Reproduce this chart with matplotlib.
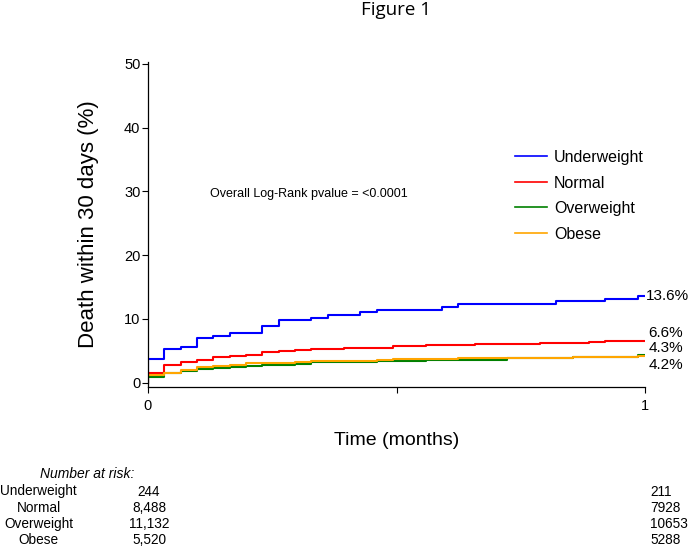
import matplotlib
matplotlib.use("Agg")
import matplotlib.pyplot as plt
from matplotlib.lines import Line2D

plt.rcParams['font.family'] = ['Liberation Sans', 'DejaVu Sans']

# groups and colours
groups = ['Underweight', 'Normal', 'Overweight', 'Obese']
colors = ['#0000FF', '#FF0000', '#008000', '#FFA500']

# cumulative mortality (%), step times in days
days_uw = [0, 0, 1, 2, 3, 4, 5, 7, 8, 10, 11, 13, 14, 18, 19, 25, 28, 30, 30.4]
pct_uw = [0, 3.7, 5.3, 5.6, 7.05, 7.4, 7.85, 8.95, 9.8, 10.2, 10.6, 11.1, 11.45,
          11.9, 12.4, 12.8, 13.2, 13.6, 13.6]

days_nm = [0, 0, 1, 2, 3, 4, 5, 6, 7, 8, 9, 10, 12, 15, 17, 20, 22, 24, 27, 28, 30.4]
pct_nm = [0, 1.6, 2.8, 3.3, 3.55, 4.0, 4.25, 4.4, 4.75, 4.9, 5.2, 5.35, 5.5, 5.75,
          5.9, 6.05, 6.15, 6.3, 6.45, 6.6, 6.6]

days_ow = [0, 0, 1, 2, 3, 4, 5, 6, 7, 9, 10, 12, 14, 17, 22, 26, 30, 30.4]
pct_ow = [0, 0.95, 1.45, 1.8, 2.1, 2.35, 2.5, 2.65, 2.85, 3.0, 3.2, 3.3, 3.45,
          3.6, 3.8, 4.0, 4.3, 4.3]

days_ob = [0, 0, 1, 2, 3, 4, 5, 6, 7, 9, 10, 12, 14, 15, 19, 26, 30, 30.4]
pct_ob = [0, 1.2, 1.55, 2.0, 2.4, 2.6, 2.8, 3.05, 3.15, 3.25, 3.35, 3.45, 3.6,
          3.65, 3.85, 4.05, 4.2, 4.2]

end_labels = ['13.6%', '6.6%', '4.3%', '4.2%']
end_label_y = [13.6, 7.75, 5.4, 2.8]

# number at risk at 0 and 1 month
risk_0 = ['244', '8,488', '11,132', '5,520']
risk_1 = ['211', '7928', '10653', '5288']

days_per_month = 30.44
series = [(days_uw, pct_uw), (days_nm, pct_nm), (days_ow, pct_ow), (days_ob, pct_ob)]

fig = plt.figure(figsize=(6.88, 5.47), dpi=100)
ax = fig.add_axes([148 / 688, 1 - 387 / 547, 497 / 688, 325 / 547])

for (d, p), c in zip(series, colors):
    months = [x / days_per_month for x in d]
    ax.step(months, p, where='post', color=c, lw=1.5)

ax.set_xlim(0, 1.0)
ax.set_ylim(-0.67, 50.3)
ax.set_xticks([0, 0.5, 1])
ax.set_xticklabels(['0', '', '1'])
ax.set_yticks([0, 10, 20, 30, 40, 50])
ax.tick_params(axis='both', labelsize=10.5, length=4, width=0.8)
ax.tick_params(axis='y', pad=1.5)
ax.tick_params(axis='x', pad=5)
for s in ['top', 'right']:
    ax.spines[s].set_visible(False)
for s in ['left', 'bottom']:
    ax.spines[s].set_linewidth(0.9)

ax.set_xlabel('Time (months)', fontsize=14, labelpad=13)
ax.set_ylabel('Death within 30 days (%)', fontsize=16, labelpad=18)

ax.text(0.1256, 29.6, 'Overall Log-Rank pvalue = <0.0001', fontsize=9, va='center')

for lab, y in zip(end_labels, end_label_y):
    ax.text(1.002 if lab == '13.6%' else 1.007, y, lab, fontsize=11, va='center', ha='left',
            clip_on=False)

handles = [Line2D([], [], color=c, lw=1.2) for c in colors]
ax.legend(handles, groups, loc='upper left', bbox_to_anchor=(515 / 688, 1 - 150 / 547),
          bbox_transform=fig.transFigure, frameon=False, fontsize=11.5,
          handlelength=2.0, handletextpad=0.45, labelspacing=0.66, borderpad=0,
          borderaxespad=0)

fig.text(396 / 688, 1 - 10 / 547, 'Figure 1', fontsize=13.5, ha='center', va='center',
         family=['Open Sans', 'DejaVu Sans'])

# number at risk table
fig.text(87 / 688, 1 - 474 / 547, 'Number at risk:', fontsize=10, style='italic',
         ha='center', va='center')
row_y = [491.5, 508, 524, 540]
for g, r0, r1, y in zip(groups, risk_0, risk_1, row_y):
    fy = 1 - y / 547
    fig.text(38.5 / 688, fy, g, fontsize=9.8, ha='center', va='center')
    fig.text(149 / 688, fy, r0, fontsize=9.8, ha='center', va='center')
    fig.text(650 / 688, fy, r1, fontsize=9.8, ha='left', va='center')

fig.savefig('out.png', dpi=100)
